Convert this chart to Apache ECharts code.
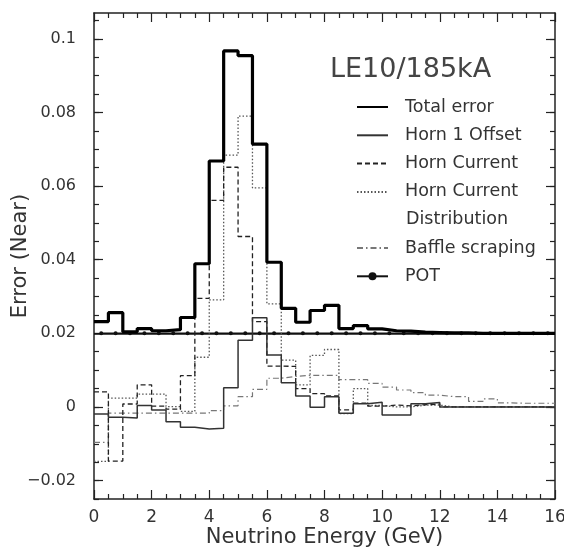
<!DOCTYPE html>
<html>
<head>
<meta charset="utf-8">
<script src="https://cdn.jsdelivr.net/npm/echarts@6/dist/echarts.min.js"></script>
<style>
html, body { margin: 0; padding: 0; background: #fff; }
#chart { width: 564px; height: 549px; }
</style>
</head>
<body>
<div id="chart"></div>
<script>
// bin edges (GeV), 0.5 GeV bins
const binEdges = [0, 0.5, 1, 1.5, 2, 2.5, 3, 3.5, 4, 4.5, 5, 5.5, 6, 6.5, 7, 7.5, 8,
  8.5, 9, 9.5, 10, 10.5, 11, 11.5, 12, 12.5, 13, 13.5, 14, 14.5, 15, 15.5, 16];
const binCenters = [0.25, 0.75, 1.25, 1.75, 2.25, 2.75, 3.25, 3.75, 4.25, 4.75, 5.25, 5.75,
  6.25, 6.75, 7.25, 7.75, 8.25, 8.75, 9.25, 9.75, 10.25, 10.75, 11.25, 11.75,
  12.25, 12.75, 13.25, 13.75, 14.25, 14.75, 15.25, 15.75];

const totalError = [0.0232, 0.0256, 0.0204, 0.0213, 0.0207, 0.0210, 0.0243, 0.0389,
  0.0668, 0.0967, 0.0954, 0.0714, 0.0393, 0.0268, 0.0230, 0.0262,
  0.0276, 0.0213, 0.0221, 0.0212, 0.0207, 0.0206, 0.0203, 0.0202,
  0.0201, 0.0201, 0.0200, 0.0200, 0.0200, 0.0200, 0.0200, 0.0200];
const horn1Offset = [-0.0019, -0.0028, -0.0030, 0.0004, -0.0008, -0.0040, -0.0055, -0.0060,
  -0.0058, 0.0052, 0.0181, 0.0242, 0.0141, 0.0066, 0.0030, -0.0001,
  0.0028, -0.0017, 0.0009, 0.0013, -0.0022, -0.0022, 0.0009, 0.0012,
  0, 0, 0, 0, 0, 0, 0, 0];
const hornCurrent = [0.0041, -0.0147, 0.0008, 0.0060, 0.0002, -0.0006, 0.0085, 0.0295,
  0.0561, 0.0651, 0.0463, 0.0232, 0.0111, 0.0110, 0.0050, 0.0036,
  0.0030, -0.0008, 0.0010, 0.0002, 0.0005, 0.0003, 0.0006, 0.0008,
  0, 0, 0, 0, 0, 0, 0, 0];
const hornCurrentDist = [-0.0148, 0.0024, 0.0024, 0.0035, 0.0035, 0.0001, -0.0012, 0.0135,
  0.0291, 0.0684, 0.0790, 0.0595, 0.0280, 0.0127, 0.0060, 0.0140,
  0.0156, -0.0018, 0.0050, 0.0004, 0, 0, 0.0005, 0.0005,
  0, 0, 0, 0, 0, 0, 0, 0];
const baffleScraping = [-0.0096, -0.0017, -0.0017, -0.0017, -0.0017, -0.0017, -0.0017, -0.0017,
  -0.0010, 0.0003, 0.0028, 0.0048, 0.0078, 0.0083, 0.0086, 0.0086,
  0.0086, 0.0074, 0.0074, 0.0064, 0.0054, 0.0046, 0.0039, 0.0032,
  0.0028, 0.0028, 0.0015, 0.0022, 0.0011, 0.0010, 0.0010, 0.0010];
const potError = [0.02, 0.02, 0.02, 0.02, 0.02, 0.02, 0.02, 0.02,
  0.02, 0.02, 0.02, 0.02, 0.02, 0.02, 0.02, 0.02,
  0.02, 0.02, 0.02, 0.02, 0.02, 0.02, 0.02, 0.02,
  0.02, 0.02, 0.02, 0.02, 0.02, 0.02, 0.02, 0.02];

const yTicks = [-0.02, 0, 0.02, 0.04, 0.06, 0.08, 0.1];
const yTickLabels = ['\u22120.02', '0', '0.02', '0.04', '0.06', '0.08', '0.1'];
const yMinorTicks = [-0.025, -0.02, -0.015, -0.01, -0.005, 0, 0.005, 0.01, 0.015, 0.02, 0.025,
  0.03, 0.035, 0.04, 0.045, 0.05, 0.055, 0.06, 0.065, 0.07, 0.075, 0.08, 0.085,
  0.09, 0.095, 0.1, 0.105];

const FONT = 'DejaVu Sans';
const INK = '#222';
const yMin = -0.025, yMax = 0.107;

// histogram as step line: left edges + last right edge
const hist = vals => vals.map((v, i) => [binEdges[i], v]).concat([[binEdges[vals.length], vals[vals.length - 1]]]);

const histSeries = (name, vals, style, z) => ({
  name: name,
  type: 'line',
  step: 'end',
  symbol: 'none',
  data: hist(vals),
  itemStyle: { color: style.color },
  lineStyle: style,
  z: z,
  silent: true
});

const xBase = {
  type: 'value', min: 0, max: 16, interval: 2,
  splitLine: { show: false },
  axisLine: { show: true, onZero: false, lineStyle: { color: INK, width: 1.5 } },
  axisTick: { inside: true, length: 9, lineStyle: { color: INK, width: 1.2 } },
  minorTick: { show: true, splitNumber: 4, length: 5, lineStyle: { color: INK, width: 1.2 } }
};

const yMinorAxis = pos => ({
  type: 'value', min: yMin, max: yMax, position: pos,
  splitLine: { show: false },
  axisLine: { show: true, onZero: false, lineStyle: { color: INK, width: 1.5 } },
  axisTick: { inside: true, length: 5, customValues: yMinorTicks, lineStyle: { color: INK, width: 1.2 } },
  axisLabel: { show: false }
});

const yMajorAxis = (pos, withLabels) => ({
  type: 'value', min: yMin, max: yMax, position: pos,
  splitLine: { show: false },
  axisLine: { show: false, onZero: false },
  axisTick: { inside: true, length: 9, customValues: yTicks, lineStyle: { color: INK, width: 1.2 } },
  axisLabel: {
    show: withLabels,
    customValues: yTicks,
    margin: 18,
    fontFamily: FONT, fontSize: 16, color: '#333',
    formatter: v => {
      const i = yTicks.findIndex(t => Math.abs(t - v) < 1e-9);
      return i >= 0 ? yTickLabels[i] : '';
    }
  }
});

const legendText = { fontFamily: FONT, fontSize: 17.5, color: '#333', lineHeight: 20, padding: [0, 0, 0, 12] };

const chart = echarts.init(document.getElementById('chart'));

chart.setOption({
  animation: false,
  backgroundColor: '#fff',
  grid: { left: 94, right: 9, top: 13, bottom: 50, containLabel: false, outerBoundsMode: 'none' },
  title: {
    text: 'LE10/185kA',
    left: 330, top: 56, padding: 0,
    textStyle: { fontFamily: FONT, fontSize: 27, fontWeight: 'normal', color: '#444' }
  },
  legend: [
    {
      data: ['Total error', 'Horn 1 Offset', 'Horn Current', 'Horn Current Distribution'],
      orient: 'vertical', left: 356, top: 97, padding: 0,
      itemWidth: 31, itemHeight: 14, itemGap: 8.3,
      itemStyle: { opacity: 0 },
      formatter: n => n === 'Horn Current Distribution' ? 'Horn Current' : n,
      textStyle: legendText,
      selectedMode: false
    },
    {
      data: [{ name: 'Baffle scraping', itemStyle: { opacity: 0 } }, 'POT'],
      orient: 'vertical', left: 356, top: 238, padding: 0,
      itemWidth: 31, itemHeight: 10, itemGap: 8.3,
      textStyle: legendText,
      selectedMode: false
    }
  ],
  graphic: [
    {
      type: 'text', left: 406, top: 210, silent: true,
      style: { text: 'Distribution', fontFamily: FONT, fontSize: 17.5, fill: '#333' }
    }
  ],
  xAxis: [
    Object.assign({}, xBase, {
      position: 'bottom',
      axisLabel: { fontFamily: FONT, fontSize: 17, color: '#333', margin: 10 },
      name: 'Neutrino Energy (GeV)', nameLocation: 'middle', nameGap: 28, nameMoveOverlap: false,
      nameTextStyle: { fontFamily: FONT, fontSize: 21, color: '#333' }
    }),
    Object.assign({}, xBase, { position: 'top', axisLabel: { show: false } })
  ],
  yAxis: [
    yMinorAxis('left'),
    Object.assign(yMajorAxis('left', true), {
      name: 'Error (Near)', nameLocation: 'middle', nameGap: 63, nameRotate: 90, nameMoveOverlap: false,
      nameTextStyle: { fontFamily: FONT, fontSize: 21, color: '#333' }
    }),
    yMinorAxis('right'),
    yMajorAxis('right', false)
  ],
  series: [
    {
      name: 'POT',
      type: 'line',
      data: binCenters.map((x, i) => [x, potError[i]]),
      symbol: 'circle', symbolSize: 4,
      itemStyle: { color: '#111' },
      lineStyle: { color: '#111', width: 1.6 },
      markLine: {
        silent: true, symbol: 'none', label: { show: false },
        lineStyle: { color: '#111', width: 1.6, type: 'solid' },
        data: [[{ coord: [binEdges[0], potError[0]] }, { coord: [binEdges[binEdges.length - 1], potError[0]] }]]
      },
      z: 3
    },
    histSeries('Baffle scraping', baffleScraping, { color: '#777', width: 1.2, type: [6, 3, 1.5, 3] }, 4),
    histSeries('Horn Current Distribution', hornCurrentDist, { color: '#555', width: 1.3, type: [1.5, 2] }, 5),
    histSeries('Horn Current', hornCurrent, { color: '#222', width: 1.3, type: [5, 3] }, 6),
    histSeries('Horn 1 Offset', horn1Offset, { color: '#333', width: 1.5, type: 'solid' }, 7),
    histSeries('Total error', totalError, { color: '#000', width: 3.2, type: 'solid' }, 8)
  ]
});
</script>
</body>
</html>
